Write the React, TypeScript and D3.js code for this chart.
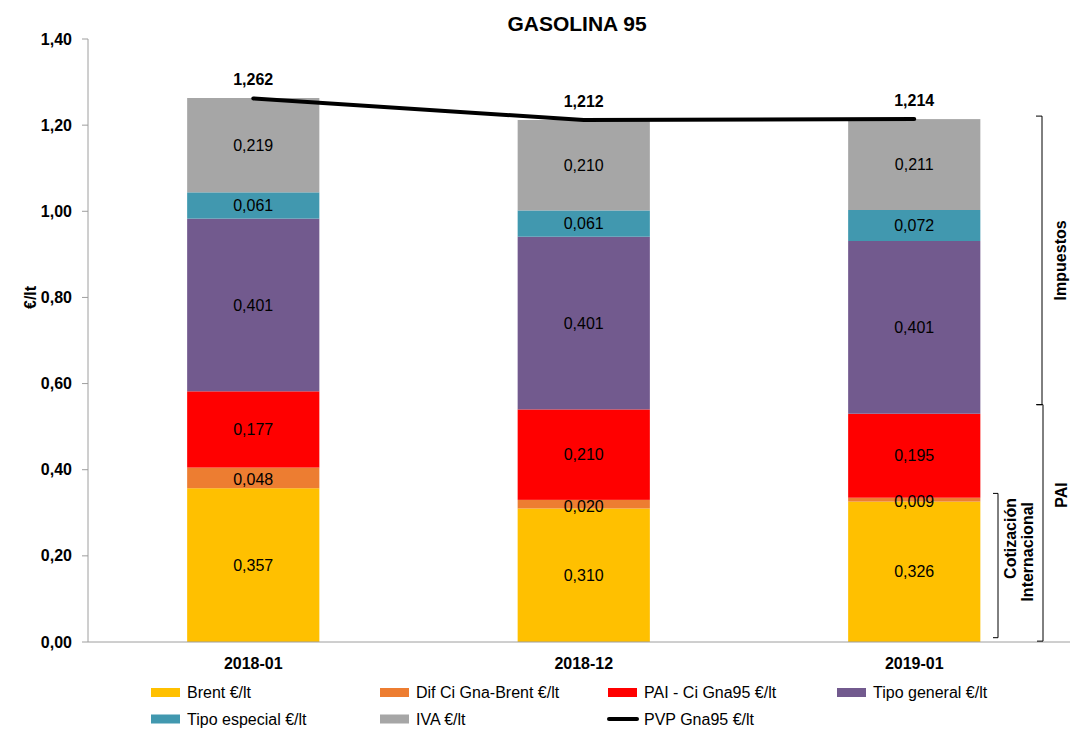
import React from "react";
import * as d3 from "d3";

const categories = ["2018-01", "2018-12", "2019-01"];
const seriesNames = ["Brent €/lt", "Dif Ci Gna-Brent €/lt", "PAI - Ci Gna95 €/lt", "Tipo general €/lt", "Tipo especial €/lt", "IVA  €/lt"];
const seriesColors = ["#FFC000", "#ED7D31", "#FF0000", "#725A8E", "#4198AF", "#A6A6A6"];
const brent = [0.357, 0.310, 0.326];
const difCi = [0.048, 0.020, 0.009];
const pai = [0.177, 0.210, 0.195];
const tipoGeneral = [0.401, 0.401, 0.401];
const tipoEspecial = [0.061, 0.061, 0.072];
const iva = [0.219, 0.210, 0.211];
const pvp = [1.262, 1.212, 1.214];
const pvpName = "PVP Gna95 €/lt";
const yTicks = [0, 0.2, 0.4, 0.6, 0.8, 1.0, 1.2, 1.4];

const W = 1070, H = 729;
const FONT = "'Liberation Sans', Arial, sans-serif";

const fmt = (v: number, d: number) => v.toFixed(d).replace(".", ",");

export default function App() {
  const x = d3.scaleBand<string>().domain(categories).range([88, 1079.5]).paddingInner(0.6).paddingOuter(0.3);
  const y = d3.scaleLinear().domain([0, 1.4]).range([642, 39]);
  const seriesVals = [brent, difCi, pai, tipoGeneral, tipoEspecial, iva];
  const table = categories.map((c, i) => {
    const o: any = { cat: c };
    seriesNames.forEach((n, k) => (o[n] = seriesVals[k][i]));
    return o;
  });
  const stack = d3.stack<any>().keys(seriesNames)(table);
  const line = d3.line<number>().x((_, i) => (x(categories[i]) as number) + x.bandwidth() / 2).y((v) => y(v));

  const legendCols = [151, 380, 608, 837];
  const legendItems = [
    ...seriesNames.map((n, k) => ({ name: n, color: seriesColors[k], type: "rect" })),
    { name: pvpName, color: "#000", type: "line" },
  ];

  // bracket positions in data units
  const impTop = 1.221, impBot = 0.551, paiBot = 0.002, cotTop = 0.345, cotBot = 0.01;

  return (
    <svg width={W} height={H} style={{ position: "absolute", left: 0, top: 0, background: "#fff" }} fontFamily={FONT}>
      <text x={577} y={31} textAnchor="middle" fontSize={21} fontWeight="bold">GASOLINA 95</text>
      {/* y axis */}
      <line x1={88} x2={88} y1={39} y2={642} stroke="#9E9E9E" strokeWidth={1} />
      {yTicks.map((t) => (
        <g key={t}>
          <line x1={82} x2={88} y1={y(t)} y2={y(t)} stroke="#9E9E9E" />
          <text x={72} y={y(t)} dy="0.35em" textAnchor="end" fontSize={16} fontWeight="bold">{fmt(t, 2)}</text>
        </g>
      ))}
      <text transform={`translate(30,${y(0.8)}) rotate(-90)`} textAnchor="middle" dy="0.35em" fontSize={16} fontWeight="bold">€/lt</text>
      {/* bars */}
      {stack.map((s, k) => (
        <g key={k} fill={seriesColors[k]}>
          {s.map((d, i) => (
            <rect key={i} x={x(categories[i])} width={x.bandwidth()} y={y(d[1])} height={y(d[0]) - y(d[1])} />
          ))}
        </g>
      ))}
      {stack.map((s, k) => (
        <g key={"l" + k}>
          {s.map((d, i) => (
            <text key={i} x={(x(categories[i]) as number) + x.bandwidth() / 2} y={y((d[0] + d[1]) / 2) + (k === 1 ? 2 : 0)} dy="0.35em" textAnchor="middle" fontSize={16}>
              {fmt(d[1] - d[0], 3)}
            </text>
          ))}
        </g>
      ))}
      {/* x axis */}
      <line x1={88} x2={W} y1={642} y2={642} stroke="#9E9E9E" />
      {categories.map((c) => (
        <text key={c} x={(x(c) as number) + x.bandwidth() / 2} y={663} dy="0.35em" textAnchor="middle" fontSize={16} fontWeight="bold">{c}</text>
      ))}
      {/* PVP line */}
      <path d={line(pvp) || ""} fill="none" stroke="#000" strokeWidth={4} strokeLinejoin="round" strokeLinecap="round" />
      {pvp.map((v, i) => (
        <text key={i} x={(x(categories[i]) as number) + x.bandwidth() / 2} y={y(v) - 19} dy="0.35em" textAnchor="middle" fontSize={16} fontWeight="bold">{fmt(v, 3)}</text>
      ))}
      {/* brackets */}
      <path d={`M1036,${y(impTop)}H1042V${y(impBot)}H1036`} fill="none" stroke="#000" strokeWidth={1} />
      <path d={`M1037,${y(impBot)}H1043V${y(paiBot)}H1037`} fill="none" stroke="#000" strokeWidth={1} />
      <path d={`M993,${y(cotTop)}H998V${y(cotBot)}H993`} fill="none" stroke="#000" strokeWidth={1} />
      <text transform={`translate(1060,${(y(impTop) + y(impBot)) / 2}) rotate(-90)`} textAnchor="middle" dy="0.35em" fontSize={16} fontWeight="bold">Impuestos</text>
      <text transform={`translate(1061,495) rotate(-90)`} textAnchor="middle" dy="0.35em" fontSize={16} fontWeight="bold">PAI</text>
      <text transform={`translate(1010,498) rotate(-90)`} textAnchor="end" dy="0.35em" fontSize={16} fontWeight="bold">Cotización</text>
      <text transform={`translate(1027,502) rotate(-90)`} textAnchor="end" dy="0.35em" fontSize={16} fontWeight="bold">Internacional</text>
      {/* legend */}
      {legendItems.map((it, idx) => {
        const col = idx % 4, row = Math.floor(idx / 4);
        const lx = legendCols[col];
        const ly = row === 0 ? 692.5 : 719;
        return (
          <g key={idx}>
            {it.type === "rect" ? (
              <rect x={lx} y={ly - 4.5} width={29} height={9} fill={it.color} />
            ) : (
              <line x1={lx + 1} x2={lx + 29} y1={ly} y2={ly} stroke="#000" strokeWidth={4} strokeLinecap="round" />
            )}
            <text x={lx + 36} y={ly} dy="0.35em" fontSize={16}>{it.name}</text>
          </g>
        );
      })}
    </svg>
  );
}
